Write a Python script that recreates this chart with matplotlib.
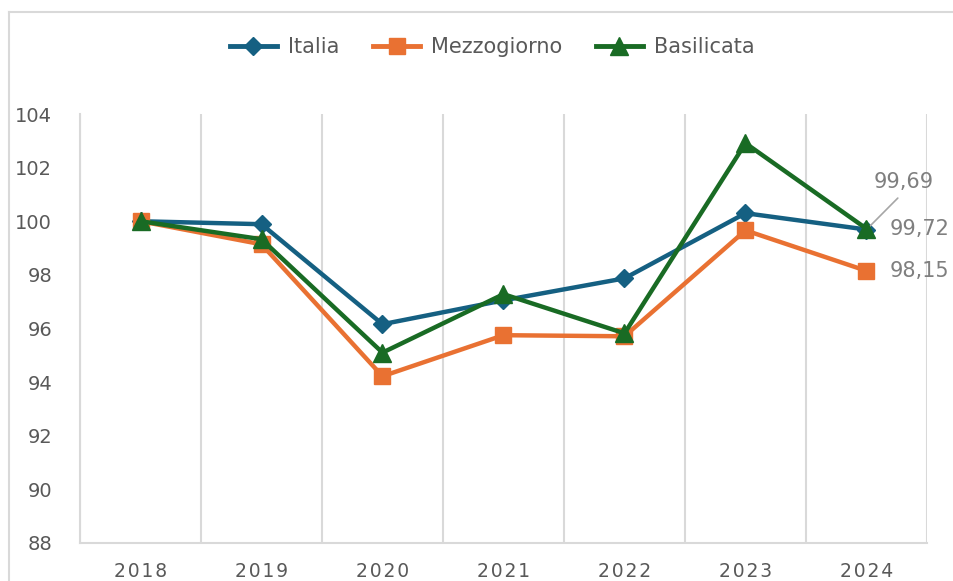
import matplotlib
matplotlib.use('Agg')
import matplotlib.pyplot as plt
from matplotlib.lines import Line2D
import numpy as np

# data
years = ['2018', '2019', '2020', '2021', '2022', '2023', '2024']
italia = [100.0, 99.89, 96.16, 97.05, 97.87, 100.30, 99.69]
mezzogiorno = [100.0, 99.14, 94.22, 95.75, 95.71, 99.66, 98.15]
basilicata = [100.0, 99.33, 95.10, 97.28, 95.82, 102.91, 99.72]
yticks = [88, 90, 92, 94, 96, 98, 100, 102, 104]

c_ita = '#156082'
c_mez = '#E97132'
c_bas = '#196B24'
grey_txt = '#595959'
grey_lbl = '#7f7f7f'
grid_c = '#d9d9d9'

plt.rcParams['font.family'] = ['DejaVu Sans']

fig = plt.figure(figsize=(9.54, 5.81), dpi=100)
ax = fig.add_axes([80/954, 1-543/581, (927-80)/954, (543-114)/581])

x = np.arange(len(years))
ax.plot(x, italia, color=c_ita, lw=3.2, marker='D', ms=9.5, label='Italia', zorder=3)
ax.plot(x, mezzogiorno, color=c_mez, lw=3.2, marker='s', ms=11.5, label='Mezzogiorno', zorder=3)
ax.plot(x, basilicata, color=c_bas, lw=3.2, marker='^', ms=12.5, label='Basilicata', zorder=4)

ax.set_xlim(-0.5, len(years) - 0.5)
ax.set_ylim(88, 104)
ax.set_yticks(yticks)
ax.set_yticklabels([str(v) for v in yticks], fontsize=14, color=grey_txt)
ax.set_xticks(x)
ax.set_xticklabels(['\u200a'.join(y) for y in years], fontsize=13.5, color=grey_txt)
ax.tick_params(axis='both', length=0)
ax.tick_params(axis='y', pad=20)
ax.tick_params(axis='x', pad=14)

# vertical gridlines between categories
for b in np.arange(-0.5, len(years), 1.0):
    ax.axvline(b, color=grid_c, lw=1.5, zorder=1)
for s in ['top', 'right']:
    ax.spines[s].set_visible(False)
for s in ['left', 'bottom']:
    ax.spines[s].set_color(grid_c)
    ax.spines[s].set_linewidth(1.5)

# data labels on last point
ax.annotate('99,72', (x[-1], basilicata[-1]), xytext=(17, 0), textcoords='offset points',
            fontsize=15, color=grey_lbl, va='center', ha='left', annotation_clip=False)
ax.annotate('98,15', (x[-1], mezzogiorno[-1]), xytext=(17, 0), textcoords='offset points',
            fontsize=15, color=grey_lbl, va='center', ha='left', annotation_clip=False)
ax.annotate('99,69', (x[-1], italia[-1]), xytext=(5, 34), textcoords='offset points',
            fontsize=15, color=grey_lbl, va='center', ha='left', annotation_clip=False,
            arrowprops=dict(arrowstyle='-', color='#a6a6a6', lw=1.2, relpos=(0.5, 0),
                            shrinkA=3, shrinkB=2))

handles = [Line2D([], [], color=c_ita, lw=3.5, marker='D', ms=9.5),
           Line2D([], [], color=c_mez, lw=3.5, marker='s', ms=11.5),
           Line2D([], [], color=c_bas, lw=3.5, marker='^', ms=12.5)]
leg = fig.legend(handles, ['Italia', 'Mezzogiorno', 'Basilicata'], loc='center',
                 bbox_to_anchor=(492/954, 1-47/581), ncol=3, frameon=False,
                 fontsize=15, handlelength=2.3, handletextpad=0.5, columnspacing=1.6)
for t in leg.get_texts():
    t.set_color(grey_txt)

# outer chart border
fig.add_artist(Line2D([9.5/954, 1], [1-11.5/581, 1-11.5/581], color=grid_c, lw=1.5))
fig.add_artist(Line2D([9.5/954, 9.5/954], [0, 1-11.5/581], color=grid_c, lw=1.5))

fig.savefig('out.png', dpi=100)
